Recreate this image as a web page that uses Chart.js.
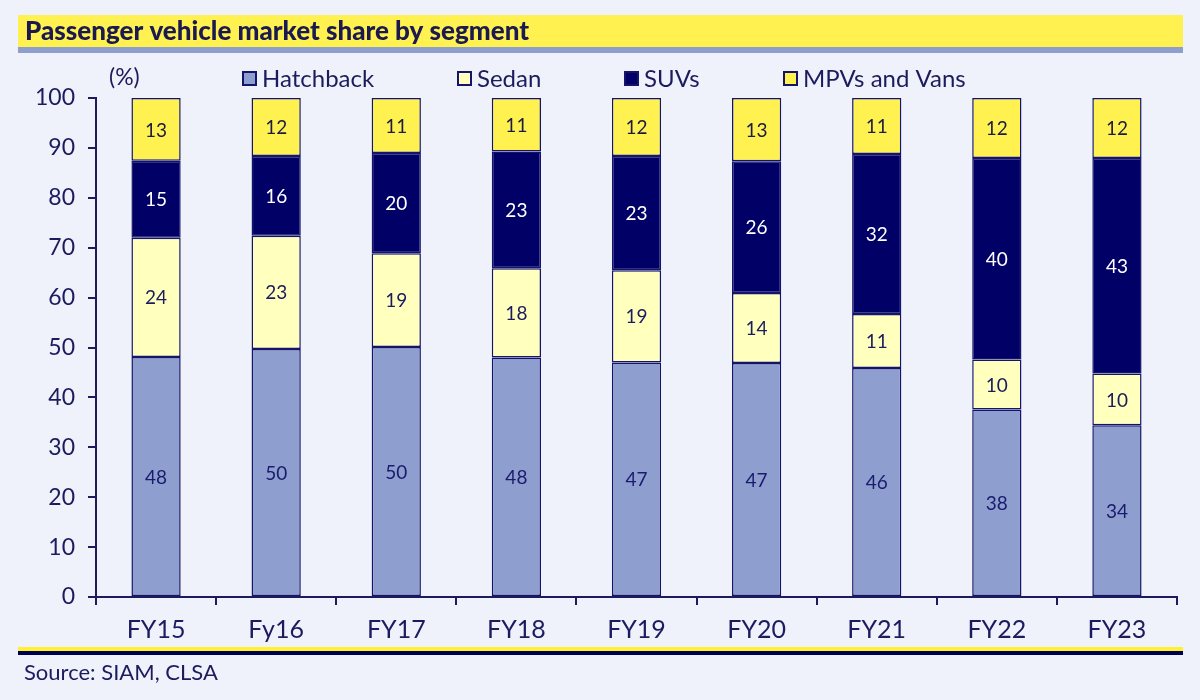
<!DOCTYPE html>
<html>
<head>
<meta charset="utf-8">
<script src="https://cdn.jsdelivr.net/npm/chart.js@4.4.1/dist/chart.umd.min.js"></script>
<style>
  html, body { margin: 0; padding: 0; background: #eff2fa; }
  #wrap { width: 1200px; height: 700px; position: relative; }
</style>
</head>
<body>
<div id="wrap"><canvas id="c"></canvas></div>
<script>
const categories = ['FY15','Fy16','FY17','FY18','FY19','FY20','FY21','FY22','FY23'];
const hatchback = [48.1, 49.7, 50.1, 48.0, 47.0, 46.9, 45.9, 37.6, 34.4];
const sedan     = [23.9, 22.7, 18.8, 17.9, 18.5, 14.0, 10.8, 10.0, 10.4];
const suvs      = [15.4, 16.0, 20.1, 23.4, 22.9, 26.4, 32.1, 40.4, 43.2];
const mpvs      = [12.6, 11.6, 11.0, 10.7, 11.6, 12.7, 11.2, 12.0, 12.0];
const yTicks = [0,10,20,30,40,50,60,70,80,90,100];

const NAVY = '#1b1b5e';
const BORDER = '#14146a';
const FONT = 'Lato, "Open Sans", sans-serif';

const seriesStyle = [
  { label: 'Hatchback',     data: hatchback, color: '#8e9fcf', text: '#1b1b6e' },
  { label: 'Sedan',         data: sedan,     color: '#ffffbe', text: '#1b1b5e' },
  { label: 'SUVs',          data: suvs,      color: '#000066', text: '#ffffff' },
  { label: 'MPVs and Vans', data: mpvs,      color: '#fff150', text: '#1b1b3e' }
];

const legendPos = [243, 458, 625, 784];

const decor = {
  id: 'decor',
  beforeDraw(chart) {
    const ctx = chart.ctx;
    ctx.save();
    // title band
    ctx.fillStyle = '#fff250';
    ctx.fillRect(18, 15, 1165, 32);
    ctx.fillStyle = '#8e9fcd';
    ctx.fillRect(18, 47, 1165, 6);
    ctx.fillStyle = '#1a1a50';
    ctx.font = '900 26px ' + FONT;
    ctx.textBaseline = 'middle';
    ctx.textAlign = 'left';
    ctx.fillText('Passenger vehicle market share by segment', 25, 32);
    // (%) unit
    ctx.font = '23px ' + FONT;
    ctx.fillStyle = NAVY;
    ctx.fillText('(%)', 109, 78);
    // legend
    seriesStyle.forEach((s, i) => {
      const x = legendPos[i];
      ctx.fillStyle = s.color;
      ctx.fillRect(x, 72, 13, 13);
      ctx.strokeStyle = BORDER;
      ctx.lineWidth = 2;
      ctx.strokeRect(x, 72, 13, 13);
      ctx.fillStyle = NAVY;
      ctx.font = '24px ' + FONT;
      ctx.fillText(s.label, x + 19, 79);
    });
    // bottom rules
    ctx.fillStyle = '#fff030';
    ctx.fillRect(18, 647, 1165, 4);
    ctx.fillStyle = '#000050';
    ctx.fillRect(18, 651, 1165, 4);
    ctx.fillStyle = NAVY;
    ctx.font = '22px ' + FONT;
    ctx.fillText('Source: SIAM, CLSA', 24, 673);
    ctx.restore();
  },
  afterDatasetsDraw(chart) {
    const ctx = chart.ctx;
    ctx.save();
    ctx.font = '19px ' + FONT;
    ctx.textAlign = 'center';
    ctx.textBaseline = 'middle';
    chart.data.datasets.forEach((ds, di) => {
      const meta = chart.getDatasetMeta(di);
      meta.data.forEach((bar, i) => {
        const v = ds.data[i];
        const mid = (bar.y + bar.base) / 2;
        ctx.fillStyle = seriesStyle[di].text;
        ctx.fillText(String(Math.round(v)), bar.x, mid + 1);
      });
    });
    ctx.restore();
  }
};

new Chart(document.getElementById('c'), {
  type: 'bar',
  data: {
    labels: categories,
    datasets: seriesStyle.map(s => ({
      label: s.label,
      data: s.data,
      backgroundColor: s.color,
      borderColor: BORDER,
      borderWidth: 1.5,
      borderSkipped: false,
      categoryPercentage: 1,
      barPercentage: 0.41
    }))
  },
  options: {
    responsive: true,
    maintainAspectRatio: false,
    animation: false,
    devicePixelRatio: 1,
    layout: { padding: { left: 0, right: 23, top: 98, bottom: 53 } },
    plugins: { legend: { display: false }, title: { display: false }, tooltip: { enabled: false } },
    scales: {
      x: {
        stacked: true,
        grid: { offset: true, drawOnChartArea: false, tickLength: 8, color: NAVY, lineWidth: 2 },
        border: { display: true, color: NAVY, width: 2 },
        ticks: { color: NAVY, font: { family: FONT, size: 25 }, padding: 10, maxRotation: 0 },
        afterFit(scale) { scale.height = 50; }
      },
      y: {
        stacked: true,
        min: 0, max: 100,
        afterBuildTicks(scale) { scale.ticks = yTicks.map(v => ({ value: v })); },
        grid: { drawOnChartArea: false, tickLength: 8, color: NAVY, lineWidth: 2 },
        border: { display: true, color: NAVY, width: 2 },
        ticks: { color: NAVY, font: { family: FONT, size: 23 }, padding: 13 },
        afterFit(scale) { scale.width = 96; }
      }
    }
  },
  plugins: [decor]
});
</script>
</body>
</html>
